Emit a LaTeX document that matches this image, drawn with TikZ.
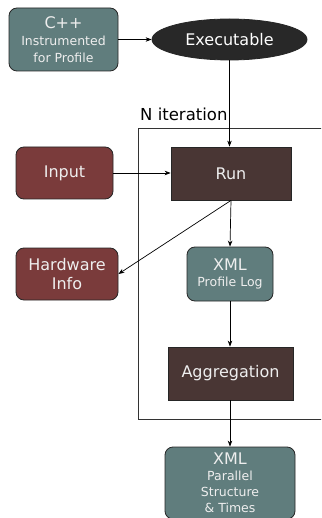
\documentclass[tikz,border=0pt]{standalone}
\usepackage{fontspec}
\setmainfont{DejaVu Sans}
\usetikzlibrary{shapes.geometric,arrows.meta}
\definecolor{teal}{RGB}{96,125,125}
\definecolor{runbrown}{RGB}{73,54,52}
\definecolor{redbrown}{RGB}{122,59,59}
\definecolor{exedark}{RGB}{40,40,40}
\definecolor{txt}{RGB}{238,238,238}
\begin{document}
\begin{tikzpicture}[x=1pt,y=-1pt,
  base/.style={draw=black!85,line width=0.8pt,text=txt,align=center,inner sep=0pt,font=\fontsize{16}{19}\selectfont},
  rbox/.style={base,rounded corners=8pt},
  sbox/.style={base},
  small/.style={font=\fontsize{12.5}{15}\selectfont},
  conn/.style={line width=0.7pt,-{Stealth[length=6pt,width=4.5pt]}}]
\useasboundingbox (0,0) rectangle (321,518);
\clip (0,0) rectangle (321,518);
\fill[white] (0,0) rectangle (321,518);
% iteration frame
\draw[line width=0.9pt,draw=black!80] (330,128) -- (138,128) -- (138,419) -- (330,419);
\node[anchor=base west,font=\fontsize{16.5}{19}\selectfont,inner sep=0pt] (nit) at (140,121) {N iteration};
\node[rbox,fill=teal,minimum width=109pt,minimum height=63pt] (cpp) at (63.5,39.5)
  {C++\\[-2pt]{\fontsize{12.5}{15}\selectfont Instrumented}\\[-2pt]{\fontsize{12.5}{15}\selectfont for Profile}};
\node[base,ellipse,fill=exedark,text=white,minimum width=155pt,minimum height=41pt] (exe) at (229.5,39.5) {Executable};
\node[sbox,fill=runbrown,minimum width=120pt,minimum height=53pt] (run) at (231,173.5) {Run};
\node[rbox,fill=redbrown,minimum width=97pt,minimum height=52pt] (input) at (64.5,173) {Input};
\node[rbox,fill=redbrown,minimum width=102pt,minimum height=52pt] (hw) at (67,274) {Hardware\\Info};
\node[rbox,fill=teal,minimum width=86pt,minimum height=54pt] (xml1) at (230,274)
  {XML\\[-3pt]{\fontsize{12.5}{15}\selectfont Profile Log}};
\node[sbox,fill=runbrown,minimum width=125pt,minimum height=53pt] (agg) at (230.5,373.5) {Aggregation};
\node[rbox,fill=teal,minimum width=130pt,minimum height=72pt] (xml2) at (230,483)
  {XML\\[-3pt]{\fontsize{12.5}{15}\selectfont Parallel}\\[-3pt]{\fontsize{12.5}{15}\selectfont Structure}\\[-3pt]{\fontsize{12.5}{15}\selectfont \& Times}};
\draw[conn] (cpp) -- (exe);
\draw[conn] (exe.south) -- (run.north -| exe.south);
\draw[conn] (input) -- (run.west |- input);
\draw[conn] (run.south) -- (xml1.north);
\draw[conn] (run.south) -- (hw.east);
\draw[conn] (xml1.south) -- (agg.north -| xml1.south);
\draw[conn] (agg.south -| xml2.north) -- (xml2.north);
\end{tikzpicture}
\end{document}
